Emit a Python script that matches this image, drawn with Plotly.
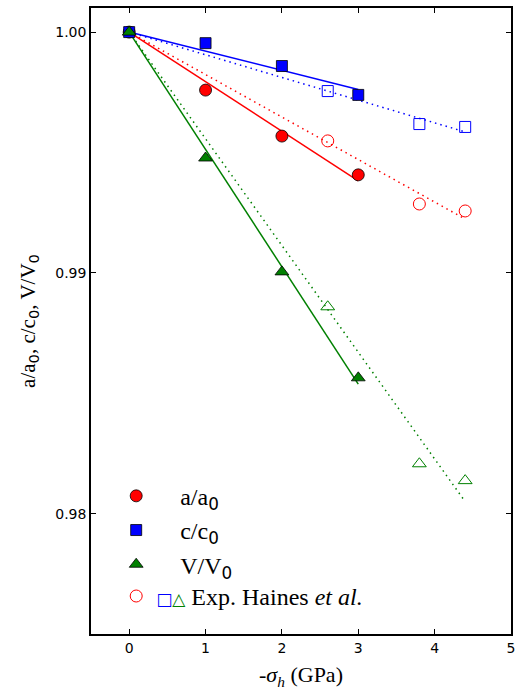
import numpy as np
import plotly.graph_objects as go

# DFT (calculated) data
sigma = [0, 1, 2, 3]
a_rel = [1.0, 0.99759, 0.99568, 0.99407]
c_rel = [1.0, 0.99954, 0.99859, 0.99739]
v_rel = [1.0, 0.99477, 0.99004, 0.98564]

# Experimental data (Haines et al.)
sigma_exp = [0, 2.6, 3.8, 4.4]
a_exp = [1.0, 0.99548, 0.99286, 0.99257]
c_exp = [1.0, 0.99755, 0.99618, 0.99606]
v_exp = [1.0, 0.98859, 0.98207, 0.98137]

RED, BLUE, GREEN = "#ff0000", "#0000ff", "#008000"
SANS = "DejaVu Sans"
SERIF = "Liberation Serif"

def sub0(t):
    return f"{t}<sub><span style='font-family:{SANS}'>0</span></sub>"

fig = go.Figure()

def fit_line(xs, ys, xmax, color, dash):
    x = np.array(xs[1:], dtype=float)
    y = np.array(ys[1:], dtype=float) - 1.0
    slope = float(np.sum(x * y) / np.sum(x * x))
    xl = np.array([0.0, xmax])
    fig.add_trace(go.Scatter(x=xl, y=1.0 + slope * xl, mode="lines",
                             line=dict(color=color, width=1.5, dash=dash),
                             showlegend=False, hoverinfo="skip"))

# fit lines
fit_line(sigma, a_rel, max(sigma), RED, "solid")
fit_line(sigma, c_rel, max(sigma), BLUE, "solid")
fit_line(sigma, v_rel, max(sigma), GREEN, "solid")
fit_line(sigma_exp, a_exp, max(sigma_exp), RED, "1.5px,4px")
fit_line(sigma_exp, c_exp, max(sigma_exp), BLUE, "1.5px,4px")
fit_line(sigma_exp, v_exp, max(sigma_exp), GREEN, "1.5px,4px")

pad = "&nbsp;" * 4

# experimental markers
exp_name = (f"<span style='color:{BLUE};font-family:{SANS};font-size:17px'>□</span>"
            f"<span style='color:{GREEN};font-family:{SANS};font-size:17px'>△</span>"
            f"&nbsp;Exp. Haines <i>et al.</i>")
fig.add_trace(go.Scatter(x=sigma_exp[1:], y=a_exp[1:], mode="markers",
                         marker=dict(symbol="circle-open", size=12, color=RED, line=dict(width=1)),
                         name=exp_name, legend="legend2"))
fig.add_trace(go.Scatter(x=sigma_exp[1:], y=c_exp[1:], mode="markers",
                         marker=dict(symbol="square-open", size=11, color=BLUE, line=dict(width=1)),
                         showlegend=False))
fig.add_trace(go.Scatter(x=sigma_exp[1:], y=v_exp[1:], mode="markers",
                         marker=dict(symbol="triangle-up-open", size=12, color=GREEN, line=dict(width=1)),
                         showlegend=False))

# DFT markers
fig.add_trace(go.Scatter(x=sigma, y=a_rel, mode="markers", name=pad + sub0("a/a"), legendgroup="a",
                         marker=dict(symbol="circle", size=12, color=RED, line=dict(color="black", width=0.8))))
fig.add_trace(go.Scatter(x=sigma, y=c_rel, mode="markers", name=pad + sub0("c/c"), legendgroup="c",
                         marker=dict(symbol="square", size=11, color=BLUE, line=dict(color="black", width=0.8))))
fig.add_trace(go.Scatter(x=sigma, y=v_rel, mode="markers", name=pad + sub0("V/V"), legendgroup="v",
                         marker=dict(symbol="triangle-up", size=12, color=GREEN, line=dict(color="black", width=0.8))))

axis_common = dict(showline=True, linecolor="black", linewidth=1.5, mirror="ticks",
                   ticks="inside", ticklen=5, tickwidth=1.2, tickcolor="black",
                   showgrid=False, zeroline=False,
                   tickfont=dict(family=SANS, size=14, color="black"))

fig.update_layout(
    width=520, height=693,
    margin=dict(l=91, r=5, t=8, b=59),
    paper_bgcolor="white", plot_bgcolor="white",
    xaxis=dict(range=[-0.5, 5], tickvals=[0, 1, 2, 3, 4, 5],
               title=dict(text="-<i>σ<sub>h</sub></i> (GPa)", font=dict(family=SERIF, size=22, color="black"),
                          standoff=12),
               **axis_common),
    yaxis=dict(range=[0.975, 1.001], tickvals=[0.98, 0.99, 1.00], ticktext=["0.98", "0.99", "1.00"],
               title=dict(text=sub0("a/a") + ", " + sub0("c/c") + ", " + sub0("V/V"),
                          font=dict(family=SERIF, size=21, color="black"), standoff=14),
               **axis_common),
    legend=dict(x=0.06, y=0.256, xanchor="left", yanchor="top", bgcolor="rgba(0,0,0,0)",
                font=dict(family=SERIF, size=24, color="black"), tracegroupgap=0, traceorder="grouped"),
    legend2=dict(x=0.06, y=0.096, xanchor="left", yanchor="top", bgcolor="rgba(0,0,0,0)",
                 font=dict(family=SERIF, size=24, color="black")),
)

fig.write_html("out.html")
